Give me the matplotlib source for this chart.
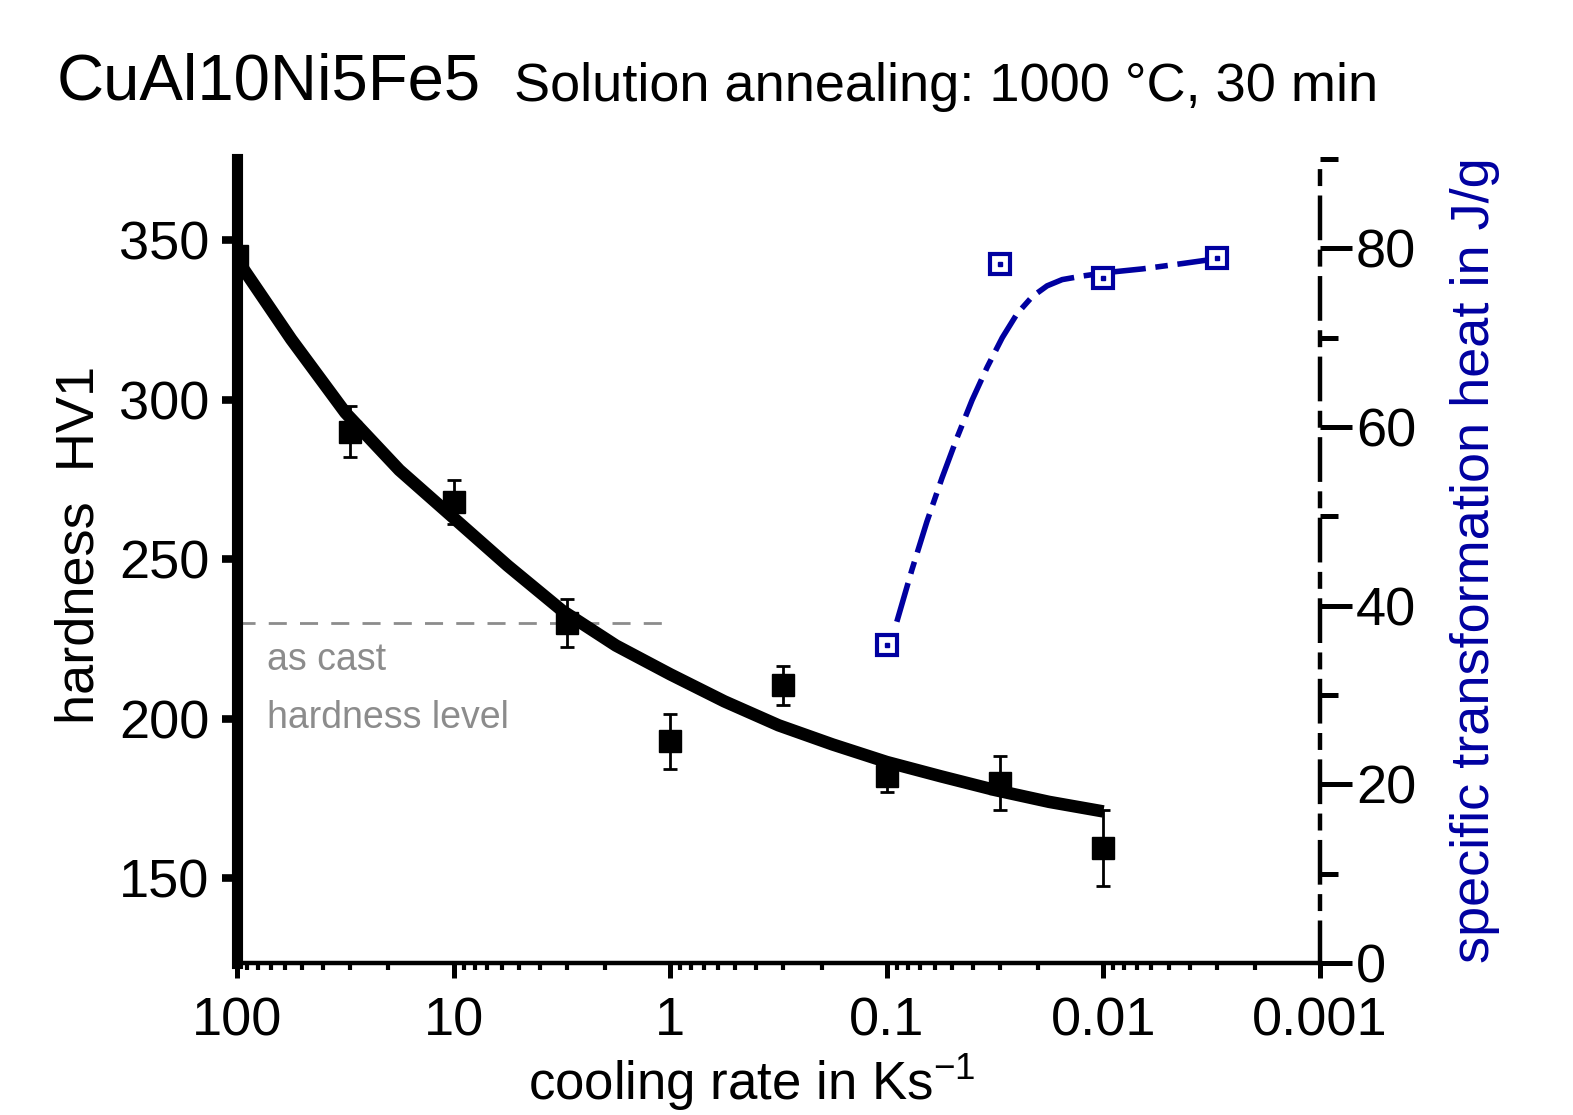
import matplotlib
matplotlib.use("Agg")
import matplotlib.pyplot as plt
from matplotlib import font_manager
from matplotlib.ticker import FixedLocator, FixedFormatter, NullFormatter

_names = {f.name for f in font_manager.fontManager.ttflist}
_main = 'Liberation Sans Narrow' if 'Liberation Sans Narrow' in _names else 'Liberation Sans'
plt.rcParams['font.family'] = [_main, 'DejaVu Sans']
plt.rcParams['mathtext.fontset'] = 'custom'
plt.rcParams['mathtext.rm'] = _main
plt.rcParams['mathtext.default'] = 'regular'
plt.rcParams['lines.scale_dashes'] = False

# ---------------- data ----------------
# measured hardness (HV1) vs cooling rate (K/s)
rate = [100, 30, 10, 3, 1, 0.3, 0.1, 0.03, 0.01]
hardness = [345, 290, 268, 230, 193, 210.5, 182, 180, 159.5]
hardness_err = [3, 8, 7, 7.5, 8.7, 6.2, 5, 8.5, 12]

# fitted hardness curve
fit_rate = [100, 56.2, 31.6, 17.8, 10, 5.62, 3.16, 1.78, 1, 0.562, 0.316, 0.178,
            0.1, 0.0562, 0.0316, 0.0178, 0.01]
fit_hardness = [344, 319, 296, 278, 263, 248, 234, 223, 214, 205.5, 198, 192,
                186.5, 182, 177.7, 174, 171]

# specific transformation heat (J/g)
heat_rate = [0.1, 0.03, 0.01, 0.003]
heat = [35.6, 78.2, 76.7, 78.9]

# guide curve for the heat data
heat_curve_rate = [0.0899, 0.0766, 0.0653, 0.0556, 0.0474, 0.0404, 0.0344, 0.0293,
                   0.0250, 0.0213, 0.0182, 0.0155, 0.0125, 0.00958, 0.0066,
                   0.00431, 0.00287]
heat_curve = [38.2, 44.0, 49.4, 54.3, 58.8, 63.0, 66.7, 70.0,
              72.7, 74.6, 75.8, 76.5, 76.9, 77.3, 77.7, 78.3, 78.9]

# as-cast hardness level
as_cast_level = 230
as_cast_range = [100, 1.05]

x_ticks = [100, 10, 1, 0.1, 0.01, 0.001]
x_tick_labels = ["100", "10", "1", "0.1", "0.01", "0.001"]
y_ticks = [150, 200, 250, 300, 350]
y2_ticks = [0, 20, 40, 60, 80]

BLUE = '#0000a0'
GRAY = '#8c8c8c'
TICK_FS = 39

fig = plt.figure(figsize=(15.73, 11.15), dpi=100)
L, R, B, T = 237, 1320, 963, 159
W, H = 1573, 1115
ax = fig.add_axes([L / W, 1 - B / H, (R - L) / W, (B - T) / H])
ax2 = ax.twinx()

# ----- left axis (hardness)
ax.set_xscale('log')
ax.set_xlim(100, 0.001)
ax.set_ylim(123.5, 375.5)

ax.errorbar(rate, hardness, yerr=hardness_err, fmt='s', color='k', ms=16,
            elinewidth=2, capsize=5, capthick=2, zorder=3)
ax.plot(fit_rate, fit_hardness, color='k', lw=9, solid_capstyle='butt',
        solid_joinstyle='round', zorder=4)
ax.plot(as_cast_range, [as_cast_level, as_cast_level], color=GRAY, lw=2,
        dashes=(13, 9.5), zorder=2)
ax.text(0.0277, 0.3644, "as cast", transform=ax.transAxes,
        color=GRAY, fontsize=27, va='baseline', ha='left')
ax.text(0.0277, 0.2923, "hardness level", transform=ax.transAxes,
        color=GRAY, fontsize=27, va='baseline', ha='left')

for s in ['top', 'right']:
    ax.spines[s].set_visible(False)
ax.spines['left'].set_linewidth(8)
ax.spines['bottom'].set_linewidth(3.2)

ax.xaxis.set_major_locator(FixedLocator(x_ticks))
ax.xaxis.set_major_formatter(FixedFormatter(x_tick_labels))
minors = [m * 10.0 ** e for e in range(-3, 2) for m in range(2, 10)]
ax.xaxis.set_minor_locator(FixedLocator(minors))
ax.xaxis.set_minor_formatter(NullFormatter())
ax.tick_params(axis='x', which='major', direction='out', length=11, width=3.6,
               labelsize=TICK_FS, pad=13)
ax.tick_params(axis='x', which='minor', direction='out', length=5, width=3)

ax.yaxis.set_major_locator(FixedLocator(y_ticks))
ax.yaxis.set_minor_locator(FixedLocator([175, 225, 275, 325]))
ax.tick_params(axis='y', which='major', direction='out', length=11, width=5.5,
               labelsize=TICK_FS, pad=9)
ax.tick_params(axis='y', which='minor', direction='out', length=3, width=1.5)

# ----- right axis (heat)
ax2.set_ylim(0, 90)
ax2.plot(heat_curve_rate, heat_curve, color=BLUE, lw=4, dashes=(29, 7, 9, 7),
         solid_joinstyle='round', zorder=3)
ax2.plot(heat_rate, heat, linestyle='none', marker='s', ms=14, mfc='white',
         mec=BLUE, mew=3, zorder=4)
ax2.plot(heat_rate, heat, linestyle='none', marker='s', ms=3, mfc=BLUE,
         mec=BLUE, zorder=5)
for s in ['top', 'left', 'bottom']:
    ax2.spines[s].set_visible(False)
ax2.spines['right'].set_linewidth(3.2)
ax2.spines['right'].set_linestyle((0, (29, 10, 9, 10)))
ax2.yaxis.set_major_locator(FixedLocator(y2_ticks))
ax2.yaxis.set_minor_locator(FixedLocator([10, 30, 50, 70, 90]))
ax2.tick_params(axis='y', which='major', direction='out', length=23, width=3.6,
                labelsize=TICK_FS, pad=3)
ax2.tick_params(axis='y', which='minor', direction='out', length=13, width=3.6)

# ----- texts
fig.text(57 / W, 1 - 100 / H, "CuAl10Ni5Fe5", fontsize=47, va='baseline', ha='left')
fig.text(514 / W, 1 - 101 / H, "Solution annealing: 1000 °C, 30 min", fontsize=39,
         va='baseline', ha='left')
fig.text(80 / W, 1 - 545 / H, "hardness  HV1", fontsize=39, rotation=90,
         va='center', ha='center')
fig.text(1475 / W, 1 - 560 / H, "specific transformation heat in J/g", fontsize=39,
         rotation=90, va='center', ha='center', color=BLUE)
fig.text(752 / W, 1 - 1100 / H, "cooling rate in Ks$^{-1}$", fontsize=38,
         va='baseline', ha='center')

fig.savefig("out.png", dpi=100)
